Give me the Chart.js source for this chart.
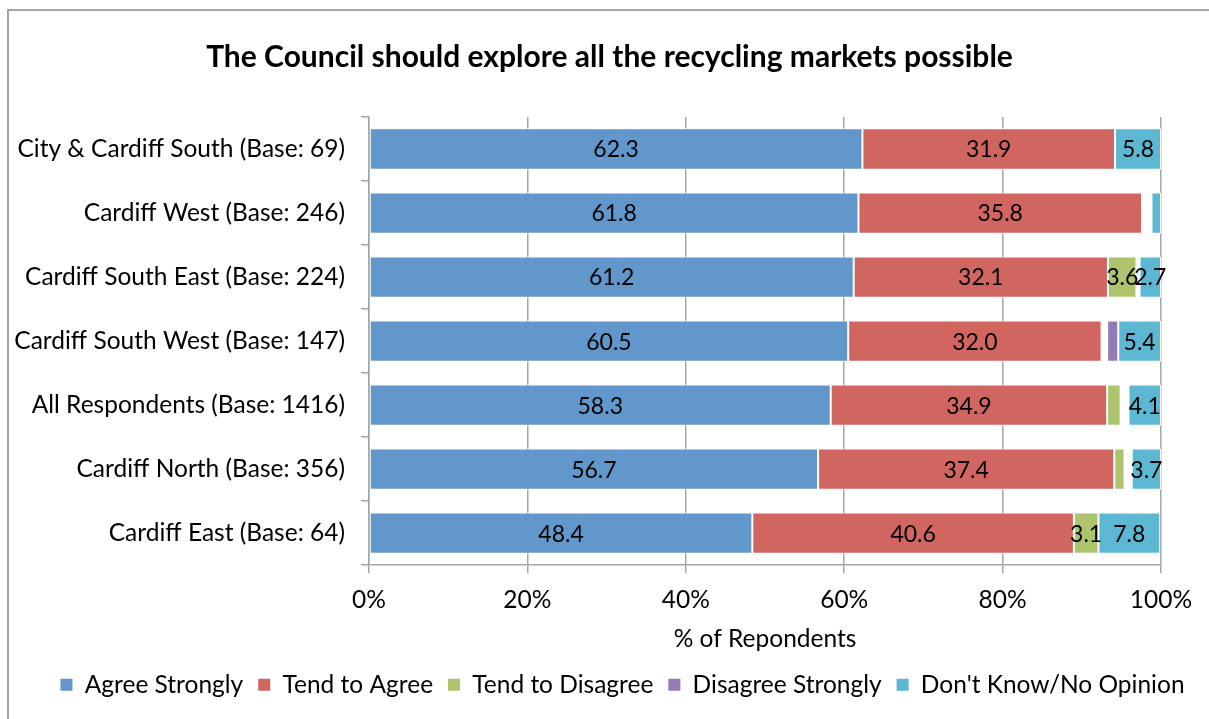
<!DOCTYPE html>
<html>
<head>
<meta charset="utf-8">
<script src="https://cdn.jsdelivr.net/npm/chart.js@4/dist/chart.umd.min.js"></script>
<style>
  html, body { margin: 0; padding: 0; background: #fff; }
  #wrap { position: relative; width: 1209px; height: 719px; }
  #frame { position: absolute; left: 7px; top: 9px; width: 1210px; height: 720px;
           border-left: 2px solid #a6a6a6; border-top: 2px solid #a6a6a6; box-sizing: border-box; }
  canvas { position: absolute; left: 0; top: 0; }
</style>
</head>
<body>
<div id="wrap">
  <div id="frame"></div>
  <canvas id="c" width="1209" height="719"></canvas>
</div>
<script>
const categories = [
  "City & Cardiff South (Base: 69)",
  "Cardiff West (Base: 246)",
  "Cardiff South East (Base: 224)",
  "Cardiff South West (Base: 147)",
  "All Respondents (Base: 1416)",
  "Cardiff North (Base: 356)",
  "Cardiff East (Base: 64)"
];
const seriesNames = ["Agree Strongly", "Tend to Agree", "Tend to Disagree", "Disagree Strongly", "Don't Know/No Opinion"];
const agreeStrongly    = [62.3, 61.8, 61.2, 60.5, 58.3, 56.7, 48.4];
const tendToAgree      = [31.9, 35.8, 32.1, 32.0, 34.9, 37.4, 40.6];
const tendToDisagree   = [0.0, 0.8, 3.6, 0.7, 1.7, 1.3, 3.1];
const disagreeStrongly = [0.0, 0.4, 0.4, 1.4, 1.0, 0.9, 0.0];
const dontKnow         = [5.8, 1.2, 2.7, 5.4, 4.1, 3.7, 7.8];
const xTicks = [0, 20, 40, 60, 80, 100];
const colors = ["#6197CB", "#D0665F", "#ADC46C", "#947BB5", "#5CB8D2"];

const FONT = "Lato, 'Open Sans', sans-serif";
const FS = 24.5;
const values = [agreeStrongly, tendToAgree, tendToDisagree, disagreeStrongly, dontKnow];

const labelPlugin = {
  id: 'segLabels',
  afterDatasetsDraw(chart) {
    const ctx = chart.ctx;
    ctx.save();
    ctx.font = "23px " + FONT;
    ctx.fillStyle = "#000";
    ctx.textAlign = "center";
    ctx.textBaseline = "middle";
    chart.data.datasets.forEach((ds, di) => {
      const meta = chart.getDatasetMeta(di);
      meta.data.forEach((el, i) => {
        const v = ds.data[i];
        if (v >= 2.5) {
          const cx = (el.x + el.base) / 2;
          ctx.fillText(v.toFixed(1), cx, el.y + 1);
        }
      });
    });
    ctx.restore();
  }
};

// shift title / legend horizontally like the original layout
const shiftPlugin = {
  id: 'shiftBlocks',
  afterLayout(chart) {
    if (chart.legend) { chart.legend.left += 18; chart.legend.right += 18; }
    if (chart.titleBlock) { chart.titleBlock.left += 5; chart.titleBlock.right += 5; }
  }
};

new Chart(document.getElementById('c'), {
  type: 'bar',
  data: {
    labels: categories,
    datasets: seriesNames.map((n, i) => ({
      label: n,
      data: values[i],
      backgroundColor: (c) => {
        const v = c.raw;
        return (typeof v === 'number' && v < 1.2) ? 'rgba(255,255,255,0)' : colors[i];
      },
      borderColor: (c) => {
        const v = c.raw;
        return (typeof v === 'number' && v < 1.2) ? 'rgba(255,255,255,0)' : '#ffffff';
      },
      borderWidth: 1,
      borderSkipped: false,
      barPercentage: 0.645,
      categoryPercentage: 1.0
    }))
  },
  plugins: [labelPlugin, shiftPlugin],
  options: {
    indexAxis: 'y',
    responsive: false,
    animation: false,
    layout: { padding: { left: 0, right: 0, top: 0, bottom: 12 } },
    plugins: {
      title: {
        display: true,
        text: "The Council should explore all the recycling markets possible",
        color: "#000",
        font: { family: FONT, size: 30, weight: 'bold' },
        padding: { top: 39, bottom: 42 }
      },
      legend: {
        position: 'bottom',
        labels: {
          color: "#000",
          font: { family: FONT, size: FS },
          boxWidth: 12, boxHeight: 12,
          padding: 15,
          generateLabels(chart) {
            return chart.data.datasets.map((d, i) => ({
              text: d.label, fillStyle: colors[i], strokeStyle: colors[i],
              lineWidth: 0, hidden: false, datasetIndex: i, fontColor: "#000"
            }));
          }
        }
      },
      tooltip: { enabled: false }
    },
    scales: {
      x: {
        stacked: true,
        min: 0, max: 100,
        afterBuildTicks(scale) { scale.ticks = xTicks.map(v => ({ value: v })); },
        ticks: {
          color: "#000",
          font: { family: FONT, size: FS },
          padding: 12,
          callback: v => v + "%"
        },
        grid: { color: "#a6a6a6", lineWidth: 1.5, tickLength: 8 },
        border: { color: "#a6a6a6", width: 1.5 },
        title: {
          display: true,
          text: "% of Repondents",
          color: "#000",
          font: { family: FONT, size: FS },
          padding: { top: -2, bottom: 3.5 }
        }
      },
      y: {
        stacked: true,
        afterFit(scale) { scale.width = 369; },
        ticks: {
          color: "#000",
          font: { family: FONT, size: FS },
          padding: 16
        },
        grid: { drawOnChartArea: false, color: "#a6a6a6", lineWidth: 1.5, tickLength: 8 },
        border: { color: "#a6a6a6", width: 1.5 }
      },
      spacer: {
        type: 'linear',
        position: 'right',
        afterFit(scale) { scale.width = 48; },
        grid: { display: false },
        ticks: { display: false },
        border: { display: false }
      }
    }
  }
});
</script>
</body>
</html>
